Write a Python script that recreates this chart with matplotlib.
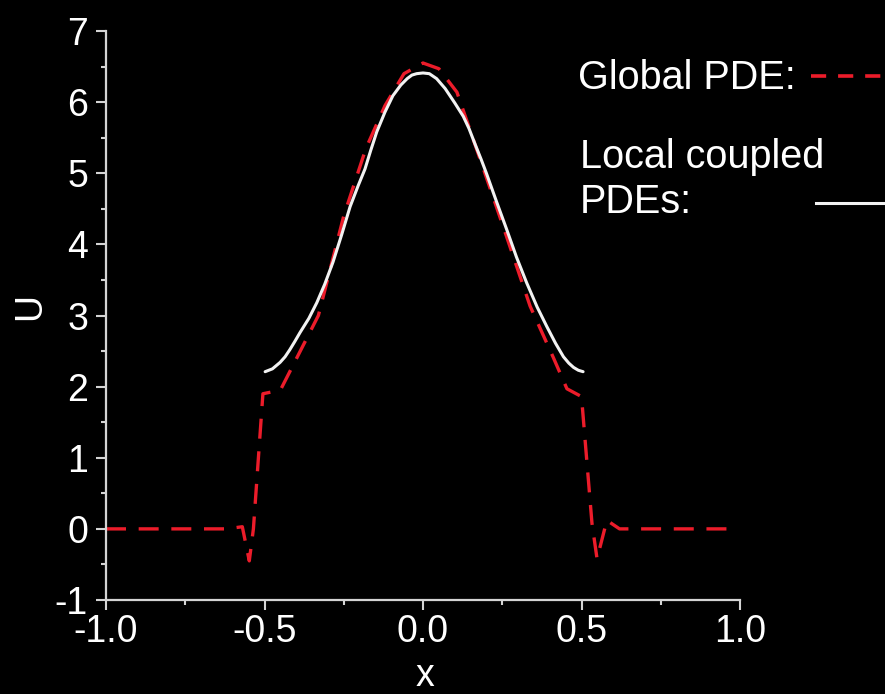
import matplotlib
matplotlib.use("Agg")
import matplotlib.pyplot as plt
from matplotlib.lines import Line2D
from matplotlib.ticker import MultipleLocator, FixedLocator

plt.rcParams['font.family'] = ['Liberation Sans', 'DejaVu Sans']
plt.rcParams['axes.unicode_minus'] = False

# Global PDE (red dashed)
x_global = [-1.0, -0.62, -0.57, -0.548, -0.535, -0.505, -0.45, -0.41, -0.33, -0.25,
            -0.18, -0.12, -0.06, 0.0, 0.05, 0.107, 0.18, 0.253, 0.338, 0.41,
            0.454, 0.50, 0.533, 0.549, 0.58, 0.62, 0.97]
u_global = [0.0, 0.0, 0.03, -0.45, 0.0, 1.9, 1.95, 2.3, 3.0, 4.4,
            5.35, 5.95, 6.4, 6.55, 6.47, 6.14, 5.2, 4.25, 3.13, 2.42,
            1.97, 1.86, 0.08, -0.42, 0.12, 0.0, 0.0]

# Local coupled PDEs (white solid)
x_local = [-0.498, -0.475, -0.451, -0.435, -0.42, -0.405, -0.388, -0.36, -0.335,
           -0.31, -0.284, -0.257, -0.23, -0.205, -0.183, -0.165, -0.146, -0.12,
           -0.095, -0.07, -0.05, -0.035, -0.02, 0.0, 0.02, 0.043, 0.07, 0.1, 0.127,
           0.145, 0.165, 0.183, 0.2, 0.232, 0.264, 0.295, 0.327, 0.36, 0.39,
           0.418, 0.443, 0.46, 0.475, 0.49, 0.505]
u_local = [2.21, 2.25, 2.34, 2.42, 2.52, 2.63, 2.76, 2.96, 3.18,
           3.44, 3.75, 4.13, 4.53, 4.82, 5.06, 5.32, 5.58, 5.86,
           6.09, 6.24, 6.33, 6.38, 6.40, 6.41, 6.40, 6.33, 6.19, 5.99, 5.8,
           5.63, 5.4, 5.2, 5.0, 4.6, 4.21, 3.82, 3.46, 3.12, 2.85,
           2.61, 2.42, 2.33, 2.27, 2.23, 2.21]

x_ticks = [-1.0, -0.5, 0.0, 0.5, 1.0]
x_ticklabels = ["-1.0", "-0.5", "0.0", "0.5", "1.0"]
y_ticks = [-1, 0, 1, 2, 3, 4, 5, 6, 7]
y_ticklabels = ["-1", "0", "1", "2", "3", "4", "5", "6", "7"]

legend_labels = ["Global PDE:", "Local coupled\nPDEs:"]

W, H = 885, 694
fig = plt.figure(figsize=(W / 100, H / 100), dpi=100, facecolor='black')
ax = fig.add_axes([106 / W, 1 - 600 / H, (740 - 106) / W, (600 - 31) / H])
ax.set_facecolor('black')

red = '#ec1c2a'
white = '#f2f2f2'
axc = '#d4d4d4'

ax.plot(x_global, u_global, color=red, lw=2.4, linestyle=(0, (6, 3.8)), zorder=2)
ax.plot(x_local, u_local, color=white, lw=2.2, zorder=3, solid_capstyle='round',
        solid_joinstyle='round')

ax.set_xlim(-1.0, 1.0)
ax.set_ylim(-1, 7)
ax.xaxis.set_major_locator(FixedLocator(x_ticks))
ax.set_xticklabels(x_ticklabels)
ax.yaxis.set_major_locator(FixedLocator(y_ticks))
ax.set_yticklabels(y_ticklabels)
ax.xaxis.set_minor_locator(MultipleLocator(0.25))
ax.yaxis.set_minor_locator(MultipleLocator(0.5))

for s in ['top', 'right']:
    ax.spines[s].set_visible(False)
for s in ['left', 'bottom']:
    ax.spines[s].set_color(axc)
    ax.spines[s].set_linewidth(1.6)

ax.tick_params(which='major', direction='out', length=7, width=1.5, color=axc,
               labelcolor='white', labelsize=27)
ax.tick_params(which='minor', direction='out', length=3.5, width=1.5, color=axc)
ax.tick_params(axis='y', which='major', pad=6)
ax.tick_params(axis='x', which='major', pad=3)

fig.text(30 / W, 1 - 307 / H, "U", color='white', fontsize=27, rotation=90,
         ha='center', va='center')
fig.text(425 / W, 1 - 686 / H, "x", color='white', fontsize=27,
         ha='center', va='baseline')

# legend (manual)
fig.text(578 / W, 1 - 89 / H, legend_labels[0], color='white', fontsize=28.5,
         ha='left', va='baseline')
fig.add_artist(Line2D([811 / W, 1.0], [1 - 76 / H, 1 - 76 / H], color=red, lw=2.6,
                      linestyle=(0, (4.2, 3.3)), transform=fig.transFigure))
fig.text(580 / W, 1 - 213 / H, legend_labels[1], color='white', fontsize=28.5,
         ha='left', va='baseline', linespacing=1.25)
fig.add_artist(Line2D([816 / W, 1.0], [1 - 203 / H, 1 - 203 / H], color=white, lw=2.2,
                      transform=fig.transFigure))

fig.savefig("out.png", dpi=100, facecolor='black')
